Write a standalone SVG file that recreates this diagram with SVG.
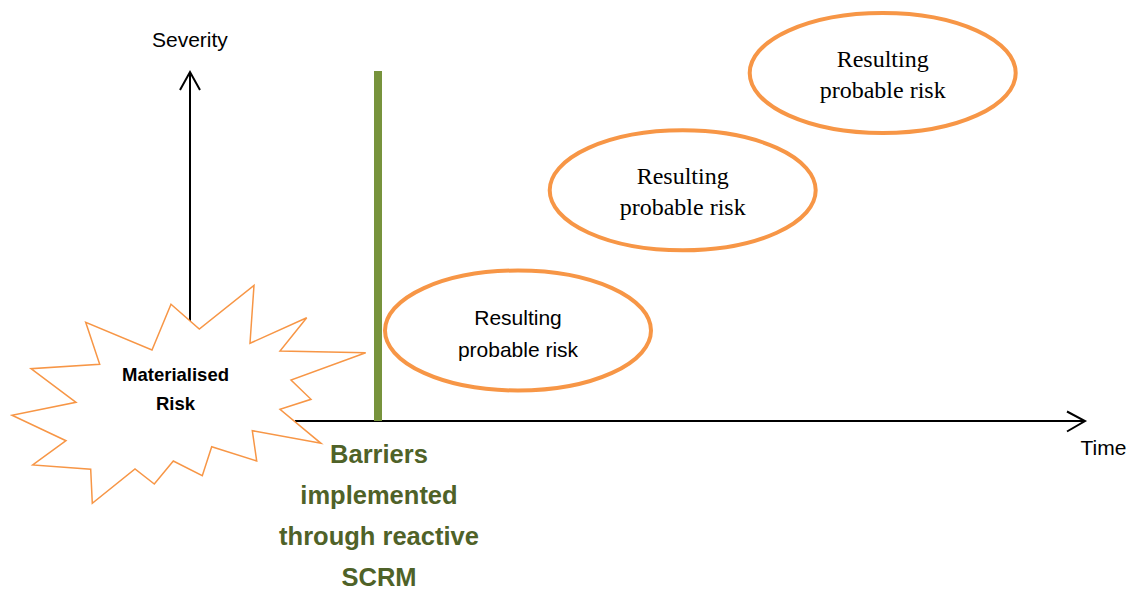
<svg xmlns="http://www.w3.org/2000/svg" width="1134" height="589" viewBox="0 0 1134 589">
<style>
.ax{stroke:#000;stroke-width:2;fill:none}
.head{stroke:#000;stroke-width:2;fill:none;stroke-linejoin:miter}
.risk{fill:#fff;stroke:#F79646;stroke-width:4}
.sans{font-family:"Liberation Sans",Arial,sans-serif;font-size:21px;fill:#000}
.serif{font-family:"Liberation Serif","Times New Roman",serif;font-size:24px;fill:#000}
.mat{font-family:"Liberation Sans",Arial,sans-serif;font-size:18.5px;font-weight:bold;fill:#000}
.bar{font-family:"Liberation Sans",Arial,sans-serif;font-size:25.5px;font-weight:bold;fill:#4F6228}
</style>
<rect width="1134" height="589" fill="#fff"/>
<g id="connectors">
<line class="ax" x1="190" y1="72" x2="190" y2="330"/>
<polyline class="head" points="180,90 190,72 200,90"/>
<line class="ax" x1="295" y1="421" x2="1085" y2="421"/>
<polyline class="head" points="1067,411.5 1085,421 1067,431.5"/>
</g>
<g id="barrier">
<rect x="374" y="71" width="8" height="350" fill="#77933C"/>
<text class="bar" text-anchor="middle" x="379" y="463">Barriers</text>
<text class="bar" text-anchor="middle" x="379" y="504">implemented</text>
<text class="bar" text-anchor="middle" x="379" y="545">through reactive</text>
<text class="bar" text-anchor="middle" x="379" y="586">SCRM</text>
</g>
<g id="materialised-risk">
<polygon fill="#fff" stroke="#F79646" stroke-width="1.5" stroke-linejoin="miter" points="171,304.3 199.3,329 254,285.3 250,343.3 306.7,317.7 280,351 365.7,352.7 291,380 311,399.3 280,409.3 321,443.3 252.3,430.7 256.7,461 211.7,446.7 202.3,475.7 173.3,461 154.3,484 135,469 92.3,503.3 90.7,469.3 32.7,465 66,440.7 12,415.3 76,402.3 31,368.7 99.7,364.3 85.7,322.3 152,350"/>
<text class="mat" text-anchor="middle" x="175.5" y="381">Materialised</text>
<text class="mat" text-anchor="middle" x="175.5" y="409.5">Risk</text>
</g>
<g id="axis-labels">
<text class="sans" x="152" y="46.5">Severity</text>
<text class="sans" x="1080.5" y="455">Time</text>
</g>
<g id="risk1">
<ellipse class="risk" cx="518" cy="330.5" rx="133" ry="60"/>
<text class="sans" text-anchor="middle" x="518" y="325">Resulting</text>
<text class="sans" text-anchor="middle" x="518" y="357">probable risk</text>
</g>
<g id="risk2">
<ellipse class="risk" cx="682.7" cy="190.3" rx="133" ry="60"/>
<text class="serif" text-anchor="middle" x="682.7" y="183.5">Resulting</text>
<text class="serif" text-anchor="middle" x="682.7" y="215">probable risk</text>
</g>
<g id="risk3">
<ellipse class="risk" cx="882.7" cy="73" rx="133" ry="60"/>
<text class="serif" text-anchor="middle" x="882.7" y="66.5">Resulting</text>
<text class="serif" text-anchor="middle" x="882.7" y="98">probable risk</text>
</g>
</svg>
